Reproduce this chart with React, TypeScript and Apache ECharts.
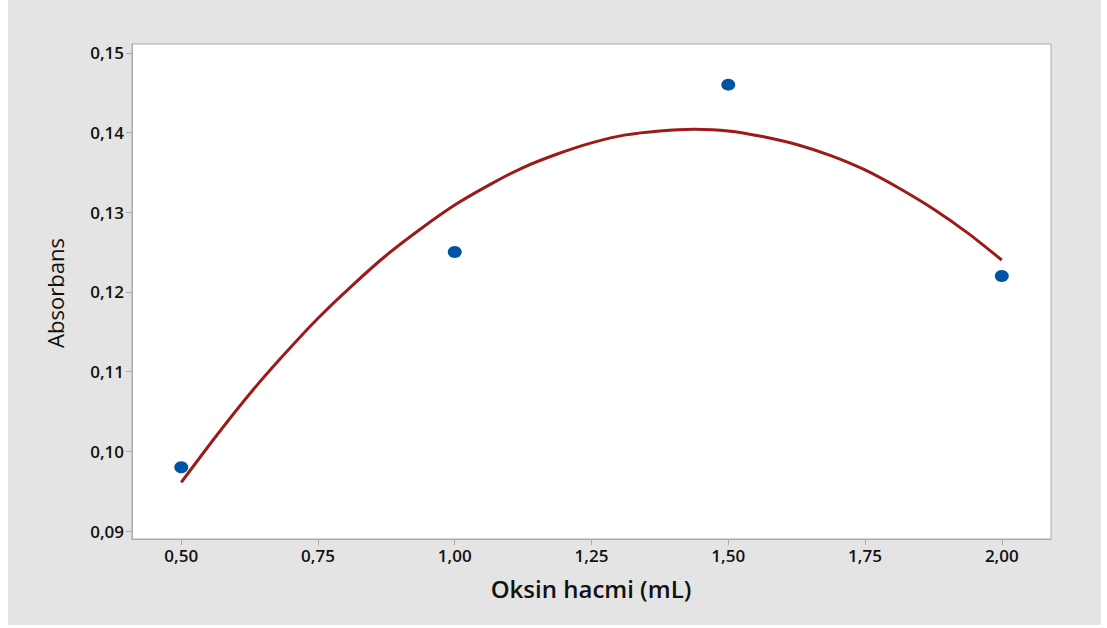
import React, { useEffect, useRef } from "react";
import * as echarts from "echarts";

// Observed data points
const pointX = [0.5, 1.0, 1.5, 2.0];
const pointY = [0.098, 0.125, 0.146, 0.122];

// Fitted curve
const fitX = [
  0.5, 0.5625, 0.625, 0.6875, 0.75, 0.8125, 0.875, 0.9375, 1.0, 1.0625, 1.125, 1.1875, 1.25,
  1.3125, 1.375, 1.4375, 1.5, 1.5625, 1.625, 1.6875, 1.75, 1.8125, 1.875, 1.9375, 2.0,
];
const fitY = [
  0.0961, 0.1018, 0.1072, 0.1121, 0.1167, 0.1208, 0.1246, 0.1279, 0.1309, 0.1334, 0.1356, 0.1373, 0.1387,
  0.1397, 0.1402, 0.1404, 0.1402, 0.1395, 0.1385, 0.1371, 0.1353, 0.133, 0.1304, 0.1274, 0.124,
];

const xTicks = [0.5, 0.75, 1.0, 1.25, 1.5, 1.75, 2.0];
const yTicks = [0.09, 0.1, 0.11, 0.12, 0.13, 0.14, 0.15];

const xName = "Oksin hacmi (mL)";
const yName = "Absorbans";

const FONT = "'Open Sans', 'Noto Sans', sans-serif";

export default function App() {
  const ref = useRef<HTMLDivElement>(null);
  useEffect(() => {
    document.body.style.margin = "0";
    const chart = echarts.init(ref.current!, null, { renderer: "svg" });
    const fmt = (v: number) => v.toFixed(2).replace(".", ",");
    chart.setOption({
      animation: false,
      backgroundColor: "#ffffff",
      graphic: [
        {
          type: "rect",
          shape: { x: 8, y: 0, width: 1093, height: 625 },
          style: { fill: "#e4e4e4" },
          z: -10,
          silent: true,
        },
        {
          type: "text",
          x: 55,
          y: 293,
          rotation: Math.PI / 2,
          style: {
            text: yName,
            font: `400 22px ${FONT}`,
            fill: "#111",
            align: "center",
            verticalAlign: "middle",
          },
        },
        {
          type: "text",
          x: 591,
          y: 588,
          style: {
            text: xName,
            font: `600 24px ${FONT}`,
            fill: "#111",
            align: "center",
            verticalAlign: "middle",
          },
        },
      ],
      grid: {
        left: 132,
        top: 44,
        width: 919,
        height: 495,
        show: true,
        backgroundColor: "#ffffff",
        borderColor: "#aaaaaa",
        borderWidth: 1,
      },
      xAxis: {
        type: "value",
        min: 0.41,
        max: 2.09,
        splitLine: { show: false },
        axisLine: { show: true, lineStyle: { color: "#aaaaaa" } },
        axisTick: { show: true, length: 6, lineStyle: { color: "#aaaaaa" }, customValues: xTicks },
        axisLabel: {
          customValues: xTicks,
          formatter: fmt,
          color: "#111",
          fontFamily: FONT,
          fontWeight: 600,
          fontSize: 17,
          margin: 8,
        },
      },
      yAxis: {
        type: "value",
        min: 0.089,
        max: 0.1511,
        splitLine: { show: false },
        axisLine: { show: true, lineStyle: { color: "#aaaaaa" } },
        axisTick: { show: true, length: 6, lineStyle: { color: "#aaaaaa" }, customValues: yTicks },
        axisLabel: {
          customValues: yTicks,
          formatter: fmt,
          color: "#111",
          fontFamily: FONT,
          fontWeight: 600,
          fontSize: 17,
          margin: 8,
        },
      },
      series: [
        {
          type: "line",
          data: fitX.map((x, i) => [x, fitY[i]]),
          smooth: 0.2,
          showSymbol: false,
          lineStyle: { color: "#9b1b1b", width: 3 },
          z: 2,
        },
        {
          type: "scatter",
          data: pointX.map((x, i) => [x, pointY[i]]),
          symbol: "circle",
          symbolSize: [14, 12],
          itemStyle: { color: "#0054a6", opacity: 1 },
          z: 3,
        },
      ],
    });
    return () => chart.dispose();
  }, []);
  return <div ref={ref} style={{ width: 1107, height: 628 }} />;
}
